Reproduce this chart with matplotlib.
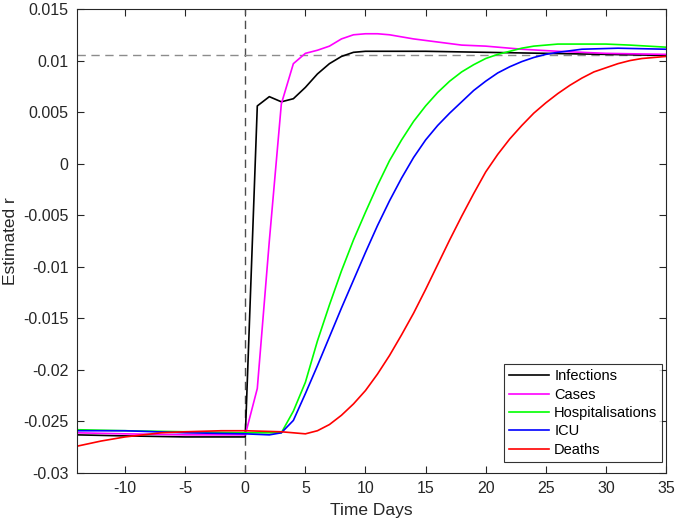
import numpy as np
import matplotlib
matplotlib.use('Agg')
import matplotlib.pyplot as plt

plt.rcParams['font.family'] = ['Liberation Sans', 'DejaVu Sans']
plt.rcParams['axes.unicode_minus'] = False

# Estimated growth rate r
inf_days = [-14, -10, -5, 0, 1, 2, 3, 4, 5, 6, 7, 8, 9, 10, 12, 15, 20, 25, 30, 35]
inf_r = [-0.0263, -0.0264, -0.0265, -0.0265, 0.0056, 0.0065, 0.0060, 0.0063, 0.0074,
         0.0087, 0.0097, 0.0104, 0.0108, 0.0109, 0.0109, 0.0109, 0.0108, 0.0107,
         0.0106, 0.0105]

case_days = [-14, -10, -5, 0, 1, 2, 3, 4, 5, 6, 7, 8, 9, 10, 11, 12, 14, 16, 18, 20,
             23, 26, 30, 35]
case_r = [-0.0261, -0.0262, -0.0263, -0.0263, -0.0218, -0.0075, 0.0058, 0.0097, 0.0107,
          0.0110, 0.0114, 0.0121, 0.0125, 0.0126, 0.0126, 0.0125, 0.0121, 0.0118,
          0.0115, 0.0114, 0.0111, 0.0109, 0.0107, 0.0106]

hosp_days = [-14, -10, -5, 0, 3, 4, 5, 6, 7, 8, 9, 10, 11, 12, 13, 14, 15, 16, 17, 18,
             19, 20, 21, 22, 23, 24, 26, 28, 30, 32, 35]
hosp_r = [-0.0258, -0.0259, -0.0260, -0.0261, -0.0261, -0.0240, -0.0212, -0.0172,
          -0.0137, -0.0104, -0.0074, -0.0047, -0.0021, 0.0003, 0.0023, 0.0041, 0.0056,
          0.0069, 0.0080, 0.0089, 0.0096, 0.0102, 0.0106, 0.0109, 0.0112, 0.0114,
          0.0116, 0.0116, 0.0116, 0.0115, 0.0113]

icu_days = [-14, -10, -5, 0, 2, 3, 4, 5, 6, 7, 8, 9, 10, 11, 12, 13, 14, 15, 16, 17,
            18, 19, 20, 21, 22, 23, 24, 25, 26, 28, 31, 35]
icu_r = [-0.0259, -0.0259, -0.0261, -0.0262, -0.0263, -0.0261, -0.0249, -0.0223,
         -0.0196, -0.0168, -0.0140, -0.0113, -0.0086, -0.0060, -0.0036, -0.0014,
         0.0006, 0.0023, 0.0037, 0.0049, 0.0060, 0.0071, 0.0080, 0.0088, 0.0094,
         0.0099, 0.0103, 0.0106, 0.0108, 0.0111, 0.0112, 0.0111]

death_days = [-14, -12, -10, -7, -5, -2, 0, 3, 5, 6, 7, 8, 9, 10, 11, 12, 13, 14, 15,
              16, 17, 18, 19, 20, 21, 22, 23, 24, 25, 26, 27, 28, 29, 30, 31, 32, 33,
              34, 35]
death_r = [-0.0274, -0.0269, -0.0265, -0.0261, -0.0260, -0.0259, -0.0259, -0.0260,
           -0.0262, -0.0259, -0.0253, -0.0244, -0.0233, -0.0220, -0.0204, -0.0186,
           -0.0166, -0.0145, -0.0122, -0.0098, -0.0074, -0.0051, -0.0029, -0.0008,
           0.0009, 0.0024, 0.0037, 0.0049, 0.0059, 0.0068, 0.0076, 0.0083, 0.0089,
           0.0093, 0.0097, 0.0100, 0.0102, 0.0103, 0.0104]

r_target = 0.0105

xticks = [-10, -5, 0, 5, 10, 15, 20, 25, 30, 35]
yticks = [-0.03, -0.025, -0.02, -0.015, -0.01, -0.005, 0, 0.005, 0.01, 0.015]
ytick_labels = ['-0.03', '-0.025', '-0.02', '-0.015', '-0.01', '-0.005', '0',
                '0.005', '0.01', '0.015']

fig = plt.figure(figsize=(6.77, 5.24), dpi=100)
ax = fig.add_axes([0.1137, 0.0973, 0.8701, 0.8855])

ax.axvline(0, color='0.3', linestyle='--', linewidth=1.0, dashes=(6, 4))
ax.axhline(r_target, color='0.55', linestyle='--', linewidth=1.0, dashes=(6, 4))

lw = 1.2
ax.plot(inf_days, inf_r, color='black', linewidth=lw, label='Infections')
ax.plot(case_days, case_r, color='#ff00ff', linewidth=lw, label='Cases')
ax.plot(hosp_days, hosp_r, color='#00ff00', linewidth=lw, label='Hospitalisations')
ax.plot(icu_days, icu_r, color='#0000ff', linewidth=lw, label='ICU')
ax.plot(death_days, death_r, color='#ff0000', linewidth=lw, label='Deaths')

ax.set_xlim(-14, 35)
ax.set_ylim(-0.03, 0.015)
ax.set_xticks(xticks)
ax.set_yticks(yticks)
ax.set_yticklabels(ytick_labels)
ax.tick_params(direction='in', top=True, right=True, length=5, width=0.8,
               labelsize=11.5, colors='0.15', pad=6)
for s in ax.spines.values():
    s.set_color('0.15')
    s.set_linewidth(0.8)

ax.set_xlabel('Time Days', fontsize=12.5, color='0.15', labelpad=5)
ax.set_ylabel('Estimated r', fontsize=12.5, color='0.15', labelpad=4)

leg = ax.legend(loc='lower right', fontsize=10.5, frameon=True, fancybox=False,
                handlelength=2.75, handletextpad=0.35, labelspacing=0.3,
                borderpad=0.35, borderaxespad=0, bbox_to_anchor=(0.994, 0.024))
leg.get_frame().set_edgecolor('black')
leg.get_frame().set_linewidth(0.8)

plt.savefig('out.png', dpi=100)
